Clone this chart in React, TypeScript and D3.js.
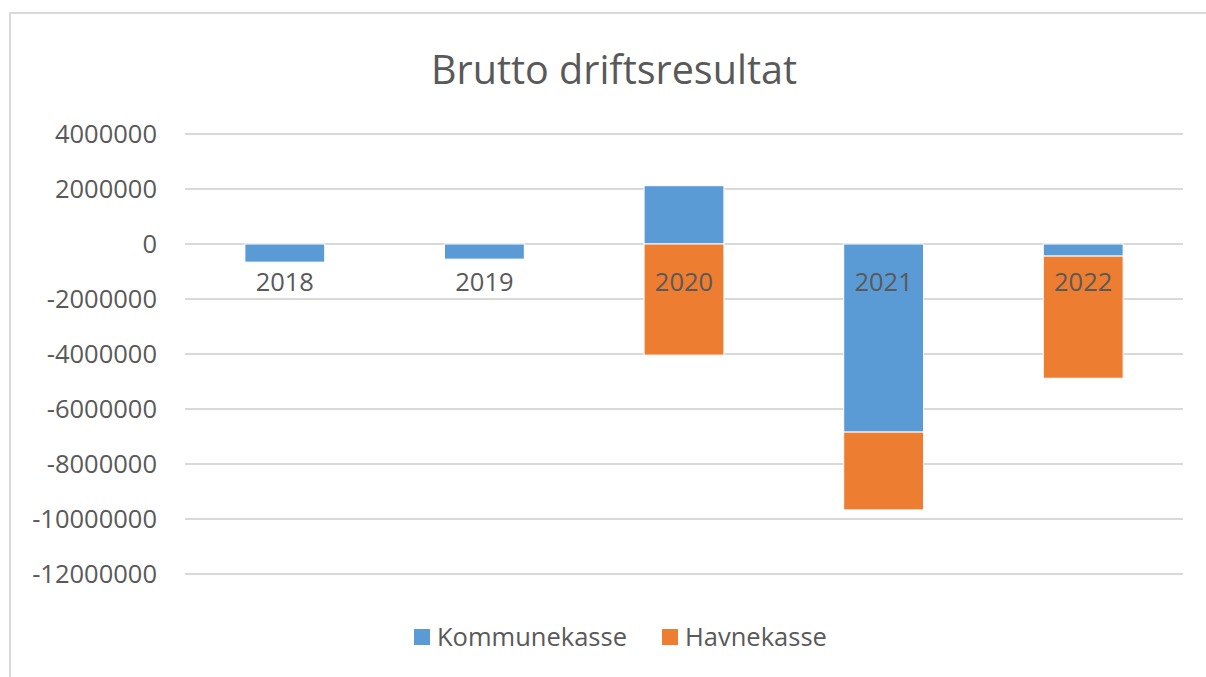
import React from "react";
import * as d3 from "d3";

const categories = ["2018", "2019", "2020", "2021", "2022"];
const kommunekasse = [-660000, -550000, 2120000, -6840000, -440000];
const havnekasse = [0, 0, -4040000, -2830000, -4440000];
const seriesNames = ["Kommunekasse", "Havnekasse"];
const seriesColors = ["#5b9bd5", "#ed7d31"];
const yTicks = [4000000, 2000000, 0, -2000000, -4000000, -6000000, -8000000, -10000000, -12000000];

const W = 1206;
const H = 677;
const FONT = "'Open Sans', 'Liberation Sans', sans-serif";
const FS = 25.5;

export default function App() {
  const left = 185;
  const right = 1183;
  const y = d3.scaleLinear().domain([-12000000, 4000000]).range([574, 134]);
  const x = d3.scaleBand().domain(categories).range([left, right]).paddingInner(0.6).paddingOuter(0.3);

  const rows = categories.map((c, i) => ({ cat: c, Kommunekasse: kommunekasse[i], Havnekasse: havnekasse[i] }));
  const stack = d3.stack<any>().keys(seriesNames).offset(d3.stackOffsetDiverging);
  const stacked = stack(rows);

  return (
    <svg width={W} height={H} style={{ position: "absolute", left: 0, top: 0, background: "#fff" }}>
      <rect x={10} y={13} width={1230} height={700} fill="#fff" stroke="#d9d9d9" strokeWidth={2} />
      <text x={614} y={84} textAnchor="middle" fontFamily={FONT} fontSize={39.5} fill="#595959">
        Brutto driftsresultat
      </text>
      {yTicks.map((t) => (
        <g key={t}>
          <line x1={left} x2={right} y1={y(t)} y2={y(t)} stroke="#d9d9d9" strokeWidth={2} />
          <text x={157} y={y(t)} dy="0.35em" textAnchor="end" fontFamily={FONT} fontSize={FS} fill="#595959">
            {t}
          </text>
        </g>
      ))}
      {stacked.map((s, si) => (
        <g key={s.key}>
          {s.map((d, i) => {
            const y0 = y(Math.max(d[0], d[1]));
            const y1 = y(Math.min(d[0], d[1]));
            if (y1 - y0 < 0.01) return null;
            return (
              <rect
                key={i}
                x={x(categories[i])!}
                y={y0}
                width={x.bandwidth()}
                height={y1 - y0}
                fill={seriesColors[si]}
                stroke="#fff"
                strokeWidth={1}
              />
            );
          })}
        </g>
      ))}
      {categories.map((c) => (
        <text key={c} x={x(c)! + x.bandwidth() / 2} y={282} dy="0.35em" textAnchor="middle" fontFamily={FONT} fontSize={FS} fill="#595959">
          {c}
        </text>
      ))}
      <g>
        <rect x={414} y={629} width={16} height={16} fill={seriesColors[0]} />
        <text x={437} y={637} dy="0.35em" fontFamily={FONT} fontSize={FS} fill="#595959">{seriesNames[0]}</text>
        <rect x={662} y={629} width={16} height={16} fill={seriesColors[1]} />
        <text x={685} y={637} dy="0.35em" fontFamily={FONT} fontSize={FS} fill="#595959">{seriesNames[1]}</text>
      </g>
    </svg>
  );
}
